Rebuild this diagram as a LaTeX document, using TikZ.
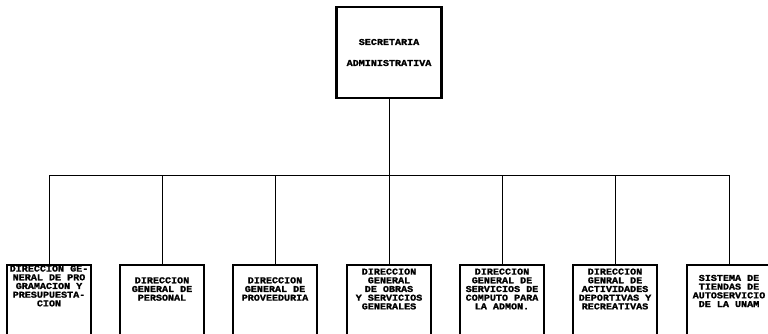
\documentclass[tikz,border=0pt]{standalone}
\usepackage{fontspec}
\newfontfamily\dotfont{Liberation Mono}[FakeStretch=1.12, BoldFeatures={FakeBold=1.6}]
\usetikzlibrary{positioning, calc}

\begin{document}
\begin{tikzpicture}[
			x=1pt, y=-1pt,
			every node/.style={align=center},
			headBox/.style={draw, line width=0.9mm, minimum width=105pt, minimum height=91pt, inner sep=0pt, font=\dotfont\bfseries\fontsize{9}{21}\selectfont},
			unitBox/.style={draw, line width=0.7mm, minimum width=84pt, minimum height=80pt, inner sep=0pt, anchor=north},
			unitText/.style={inner sep=0pt, font=\dotfont\bfseries\fontsize{9}{8.7}\selectfont},
			conn/.style={line width=0.35mm}
		]
		\useasboundingbox (0,0) rectangle (768,333);
		\clip (0,0) rectangle (768,333);

		% Head of the chart
		\node[headBox] (SA) at (389,52.5) {SECRETARIA\\ADMINISTRATIVA};
		\coordinate (bus) at (0,175);

		% Units below
		\node[unitBox] (DGPP) at (49,264) {};
		\node[unitBox] (DGP) at (162,264) {};
		\node[unitBox] (DGPR) at (275,264) {};
		\node[unitBox] (DGOS) at (389,264) {};
		\node[unitBox] (DGSC) at (502,264) {};
		\node[unitBox] (DGAD) at (615,264) {};
		\node[unitBox] (STA) at (729,264) {};

		\node[unitText] (DGPP-t) at ($(DGPP.north)+(0,22)$) {DIRECCION GE-\\NERAL DE PRO\\GRAMACION Y\\PRESUPUESTA-\\CION};
		\node[unitText] (DGP-t) at ($(DGP.north)+(0,25)$) {DIRECCION\\GENERAL DE\\PERSONAL};
		\node[unitText] (DGPR-t) at ($(DGPR.north)+(0,25)$) {DIRECCION\\GENERAL DE\\PROVEEDURIA};
		\node[unitText] (DGOS-t) at ($(DGOS.north)+(0,25)$) {DIRECCION\\GENERAL\\DE OBRAS\\Y SERVICIOS\\GENERALES};
		\node[unitText] (DGSC-t) at ($(DGSC.north)+(0,25)$) {DIRECCION\\GENERAL DE\\SERVICIOS DE\\COMPUTO PARA\\LA ADMON.};
		\node[unitText] (DGAD-t) at ($(DGAD.north)+(0,25)$) {DIRECCION\\GENRAL DE\\ACTIVIDADES\\DEPORTIVAS Y\\RECREATIVAS};
		\node[unitText] (STA-t) at ($(STA.north)+(0,27)$) {SISTEMA DE\\TIENDAS DE\\AUTOSERVICIO\\DE LA UNAM};

		% Connectors
		\draw[conn] (SA.south) -- (SA.south |- bus);
		\draw[conn] (DGPP.north |- bus) -- (STA.north |- bus);
		\draw[conn] (DGPP.north |- bus) -- (DGPP.north);
		\draw[conn] (DGP.north |- bus) -- (DGP.north);
		\draw[conn] (DGPR.north |- bus) -- (DGPR.north);
		\draw[conn] (DGOS.north |- bus) -- (DGOS.north);
		\draw[conn] (DGSC.north |- bus) -- (DGSC.north);
		\draw[conn] (DGAD.north |- bus) -- (DGAD.north);
		\draw[conn] (STA.north |- bus) -- (STA.north);
	\end{tikzpicture}
\end{document}
